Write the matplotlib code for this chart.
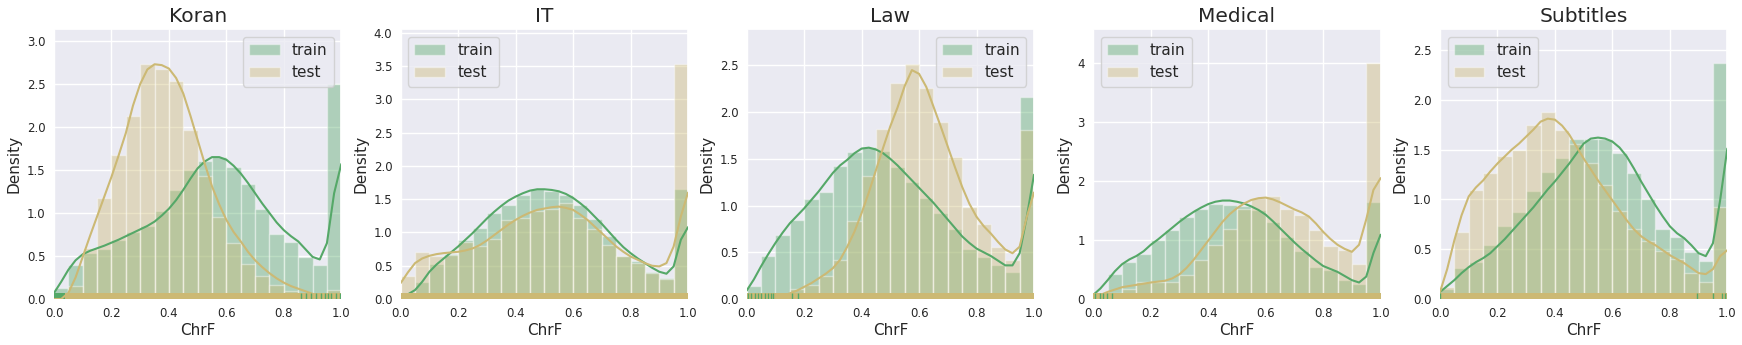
import matplotlib
matplotlib.use("Agg")
import matplotlib.pyplot as plt
import seaborn as sns

sns.set_theme(style="darkgrid")
plt.rcParams['font.family'] = ['DejaVu Sans']

GREEN = "#55a868"
TAN = "#ccb974"

domains = ["Koran", "IT", "Law", "Medical", "Subtitles"]
bin_edges = [0.0, 0.05, 0.1, 0.15, 0.2, 0.25, 0.3, 0.35, 0.4, 0.45, 0.5,
             0.55, 0.6, 0.65, 0.7, 0.75, 0.8, 0.85, 0.9, 0.95, 1.0]
kde_x = [0.0, 0.025, 0.05, 0.075, 0.1, 0.125, 0.15, 0.175, 0.2, 0.225, 0.25,
         0.275, 0.3, 0.325, 0.35, 0.375, 0.4, 0.425, 0.45, 0.475, 0.5,
         0.525, 0.55, 0.575, 0.6, 0.625, 0.65, 0.675, 0.7, 0.725, 0.75,
         0.775, 0.8, 0.825, 0.85, 0.875, 0.9, 0.925, 0.95, 0.975, 1.0]

# ---- Koran ----
koran_train_hist = [0.13, 0.40, 0.53, 0.585, 0.69, 0.775, 0.85, 1.02, 1.27, 1.50,
                    1.60, 1.655, 1.53, 1.34, 1.05, 0.755, 0.66, 0.49, 0.395, 2.50]
koran_test_hist = [0.01, 0.155, 0.59, 1.17, 1.67, 2.13, 2.73, 2.68, 2.53, 1.97,
                   1.43, 0.95, 0.65, 0.41, 0.27, 0.16, 0.09, 0.045, 0.03, 0.10]
koran_train_kde = [0.07, 0.20, 0.34, 0.45, 0.52, 0.56, 0.59, 0.62, 0.655, 0.69, 0.73,
                   0.77, 0.81, 0.85, 0.90, 0.97, 1.05, 1.15, 1.27, 1.40, 1.52,
                   1.60, 1.65, 1.65, 1.62, 1.55, 1.46, 1.35, 1.23, 1.11, 1.0,
                   0.89, 0.80, 0.73, 0.67, 0.58, 0.49, 0.46, 0.65, 1.23, 1.57]
koran_test_kde = [0.0, 0.0, 0.07, 0.25, 0.49, 0.73, 0.96, 1.19, 1.42, 1.67, 1.93,
                  2.25, 2.5, 2.67, 2.73, 2.72, 2.68, 2.57, 2.39, 2.13, 1.85,
                  1.57, 1.31, 1.10, 0.92, 0.78, 0.67, 0.55, 0.45, 0.37, 0.30,
                  0.24, 0.19, 0.15, 0.12, 0.09, 0.06, 0.045, 0.03, 0.025, 0.02]
koran_train_rug_span = [(0.0, 0.038)]
koran_train_rug = [0.861, 0.878, 0.896, 0.913, 0.931, 0.945, 0.952, 0.965, 0.983, 0.994]
koran_test_rug_span = (0.038, 1.0)

# ---- IT ----
it_train_hist = [0.05, 0.26, 0.52, 0.68, 0.89, 1.07, 1.29, 1.42, 1.57, 1.65,
                 1.63, 1.57, 1.41, 1.20, 0.94, 0.65, 0.57, 0.41, 0.32, 1.65]
it_test_hist = [0.35, 0.70, 0.64, 0.66, 0.85, 0.80, 0.90, 1.19, 1.22, 1.33,
                1.35, 1.44, 1.22, 1.06, 0.81, 0.64, 0.54, 0.39, 0.30, 3.54]
it_train_kde = [0.035, 0.07, 0.135, 0.26, 0.41, 0.52, 0.61, 0.70, 0.79, 0.89, 0.99,
                1.10, 1.21, 1.31, 1.40, 1.48, 1.54, 1.59, 1.63, 1.65, 1.65,
                1.64, 1.62, 1.58, 1.52, 1.44, 1.35, 1.24, 1.13, 1.01, 0.89,
                0.78, 0.69, 0.61, 0.54, 0.47, 0.41, 0.38, 0.49, 0.89, 1.08]
it_test_kde = [0.24, 0.40, 0.54, 0.61, 0.65, 0.675, 0.69, 0.70, 0.71, 0.73, 0.76,
               0.81, 0.88, 0.96, 1.04, 1.12, 1.19, 1.25, 1.30, 1.34, 1.36,
               1.38, 1.39, 1.37, 1.34, 1.27, 1.19, 1.09, 0.99, 0.89, 0.79,
               0.71, 0.64, 0.59, 0.54, 0.50, 0.49, 0.54, 0.79, 1.24, 1.60]
it_train_rug_span = []
it_train_rug = []
it_test_rug_span = (0.0, 1.0)

# ---- Law ----
law_train_hist = [0.14, 0.46, 0.68, 0.85, 1.07, 1.14, 1.42, 1.57, 1.63, 1.58,
                  1.41, 1.25, 1.08, 0.925, 0.75, 0.54, 0.45, 0.36, 0.29, 2.16]
law_test_hist = [0.005, 0.01, 0.03, 0.11, 0.15, 0.25, 0.42, 0.83, 1.32, 1.82,
                 2.31, 2.52, 2.26, 1.89, 1.52, 0.99, 0.80, 0.56, 0.42, 1.81]
law_train_kde = [0.09, 0.21, 0.35, 0.48, 0.60, 0.71, 0.81, 0.89, 0.97, 1.06, 1.15,
                 1.25, 1.35, 1.43, 1.49, 1.56, 1.61, 1.62, 1.60, 1.56, 1.50,
                 1.43, 1.35, 1.27, 1.19, 1.11, 1.03, 0.94, 0.85, 0.76, 0.67,
                 0.60, 0.54, 0.50, 0.46, 0.41, 0.36, 0.36, 0.49, 0.88, 1.33]
law_test_kde = [0.0, 0.002, 0.005, 0.008, 0.015, 0.035, 0.06, 0.09, 0.13, 0.17, 0.22,
                0.27, 0.33, 0.42, 0.56, 0.72, 0.92, 1.14, 1.38, 1.62, 1.85,
                2.05, 2.28, 2.45, 2.41, 2.27, 2.06, 1.85, 1.63, 1.41, 1.20,
                1.02, 0.88, 0.78, 0.70, 0.61, 0.53, 0.49, 0.56, 0.88, 1.14]
law_train_rug_span = []
law_train_rug = [0.005, 0.016, 0.028, 0.039, 0.05, 0.062, 0.073, 0.085, 0.093, 0.159, 0.179]
law_test_rug_span = (0.0, 1.0)

# ---- Medical ----
med_train_hist = [0.10, 0.42, 0.63, 0.76, 1.0, 1.17, 1.39, 1.53, 1.61, 1.60,
                  1.58, 1.51, 1.30, 1.06, 0.82, 0.55, 0.49, 0.33, 0.25, 1.64]
med_test_hist = [0.03, 0.10, 0.17, 0.28, 0.28, 0.29, 0.40, 0.67, 0.91, 1.18,
                 1.52, 1.71, 1.74, 1.53, 1.43, 1.17, 0.90, 0.83, 0.59, 4.0]
med_train_kde = [0.07, 0.18, 0.32, 0.47, 0.59, 0.67, 0.73, 0.81, 0.92, 1.01, 1.11,
                 1.21, 1.31, 1.40, 1.48, 1.55, 1.61, 1.65, 1.67, 1.67, 1.65,
                 1.62, 1.57, 1.51, 1.43, 1.32, 1.20, 1.08, 0.96, 0.85, 0.75,
                 0.65, 0.56, 0.51, 0.46, 0.39, 0.32, 0.28, 0.38, 0.78, 1.09]
med_test_kde = [0.02, 0.07, 0.12, 0.16, 0.20, 0.22, 0.24, 0.26, 0.28, 0.295, 0.31,
                0.35, 0.42, 0.53, 0.67, 0.83, 0.99, 1.15, 1.31, 1.44, 1.54,
                1.62, 1.68, 1.71, 1.72, 1.69, 1.64, 1.58, 1.52, 1.47, 1.40,
                1.28, 1.14, 1.02, 0.92, 0.85, 0.80, 0.92, 1.35, 1.85, 2.05]
med_train_rug_span = []
med_train_rug = [0.006, 0.023, 0.035, 0.047, 0.064]
med_test_rug_span = (0.0, 1.0)

# ---- Subtitles ----
sub_train_hist = [0.10, 0.31, 0.37, 0.54, 0.73, 0.87, 1.08, 1.27, 1.42, 1.61,
                  1.61, 1.61, 1.47, 1.26, 1.0, 0.70, 0.62, 0.47, 0.38, 2.37]
sub_test_hist = [0.12, 0.67, 1.09, 1.26, 1.44, 1.50, 1.75, 1.88, 1.70, 1.56,
                 1.37, 1.14, 0.88, 0.70, 0.58, 0.48, 0.40, 0.26, 0.17, 0.92]
sub_train_kde = [0.07, 0.13, 0.19, 0.26, 0.32, 0.37, 0.41, 0.46, 0.53, 0.60, 0.68,
                 0.76, 0.84, 0.92, 1.01, 1.10, 1.18, 1.27, 1.36, 1.46, 1.56,
                 1.61, 1.62, 1.61, 1.58, 1.52, 1.43, 1.31, 1.18, 1.06, 0.94,
                 0.83, 0.73, 0.66, 0.61, 0.54, 0.46, 0.43, 0.56, 0.99, 1.51]
sub_test_kde = [0.07, 0.30, 0.59, 0.84, 1.03, 1.12, 1.19, 1.28, 1.36, 1.43, 1.50,
                1.56, 1.63, 1.70, 1.78, 1.81, 1.80, 1.74, 1.65, 1.53, 1.41,
                1.30, 1.19, 1.09, 0.99, 0.89, 0.79, 0.70, 0.63, 0.58, 0.54,
                0.49, 0.44, 0.40, 0.36, 0.31, 0.26, 0.25, 0.30, 0.43, 0.49]
sub_train_rug_span = []
sub_train_rug = [0.0, 0.893, 0.951, 0.983, 0.991]
sub_test_rug_span = (0.0, 1.0)

y_tops = [3.14, 4.06, 2.89, 4.58, 2.71]
y_ticks = [[0.0, 0.5, 1.0, 1.5, 2.0, 2.5, 3.0],
           [0.0, 0.5, 1.0, 1.5, 2.0, 2.5, 3.0, 3.5, 4.0],
           [0.0, 0.5, 1.0, 1.5, 2.0, 2.5],
           [0, 1, 2, 3, 4],
           [0.0, 0.5, 1.0, 1.5, 2.0, 2.5]]
y_fmt = ["%.1f", "%.1f", "%.1f", "%d", "%.1f"]
x_ticks = [0.0, 0.2, 0.4, 0.6, 0.8, 1.0]
legend_locs = ["upper right", "upper left", "upper right", "upper left", "upper left"]

panels = [
    (koran_train_hist, koran_test_hist, koran_train_kde, koran_test_kde,
     koran_train_rug_span, koran_train_rug, koran_test_rug_span),
    (it_train_hist, it_test_hist, it_train_kde, it_test_kde,
     it_train_rug_span, it_train_rug, it_test_rug_span),
    (law_train_hist, law_test_hist, law_train_kde, law_test_kde,
     law_train_rug_span, law_train_rug, law_test_rug_span),
    (med_train_hist, med_test_hist, med_train_kde, med_test_kde,
     med_train_rug_span, med_train_rug, med_test_rug_span),
    (sub_train_hist, sub_test_hist, sub_train_kde, sub_test_kde,
     sub_train_rug_span, sub_train_rug, sub_test_rug_span),
]

W, H = 1742, 345
fig = plt.figure(figsize=(W / 100, H / 100), dpi=100)
lefts = [54, 400.7, 746.7, 1093.3, 1440]
ax_w = 287.3
ax_bottom = 46
ax_h = 270

RUG_H = 0.024
lefts_edges = bin_edges[:-1]
widths = [b - a for a, b in zip(bin_edges[:-1], bin_edges[1:])]

for i, (name, data) in enumerate(zip(domains, panels)):
    tr_h, te_h, tr_k, te_k, tr_span, tr_rug, te_span = data
    ax = fig.add_axes([lefts[i] / W, ax_bottom / H, ax_w / W, ax_h / H])
    xt = ax.get_xaxis_transform()
    # train
    ax.bar(lefts_edges, tr_h, width=widths, align='edge', color=GREEN, alpha=0.4,
           edgecolor='white', linewidth=1.0, label='train', zorder=2)
    ax.plot(kde_x, tr_k, color=GREEN, lw=1.5, zorder=3)
    for lo, hi in tr_span:
        ax.axvspan(lo, hi, ymin=0, ymax=RUG_H, color=GREEN, lw=0, zorder=3)
    # test
    ax.bar(lefts_edges, te_h, width=widths, align='edge', color=TAN, alpha=0.4,
           edgecolor='white', linewidth=1.0, label='test', zorder=2)
    ax.plot(kde_x, te_k, color=TAN, lw=1.5, zorder=3)
    ax.axvspan(te_span[0], te_span[1], ymin=0, ymax=RUG_H, color=TAN, lw=0, zorder=3)
    if tr_rug:
        ax.vlines(tr_rug, 0, RUG_H, transform=xt, color=GREEN, lw=1.0, zorder=4)

    ax.set_xlim(0, 1)
    ax.set_ylim(0, y_tops[i])
    ax.set_xticks(x_ticks)
    ax.set_xticklabels(["%.1f" % v for v in x_ticks])
    ax.set_yticks(y_ticks[i])
    ax.set_yticklabels([y_fmt[i] % v for v in y_ticks[i]])
    ax.tick_params(axis='both', labelsize=8.5, pad=6, length=0, labelcolor='.15')
    ax.set_title(name, fontsize=14.5, color='.15', pad=5)
    ax.set_xlabel("ChrF", fontsize=11, color='.15', labelpad=2)
    ax.set_ylabel("Density", fontsize=11, color='.15', labelpad=4)
    ax.legend(loc=legend_locs[i], fontsize=11)

fig.savefig("out.png", dpi=100)
